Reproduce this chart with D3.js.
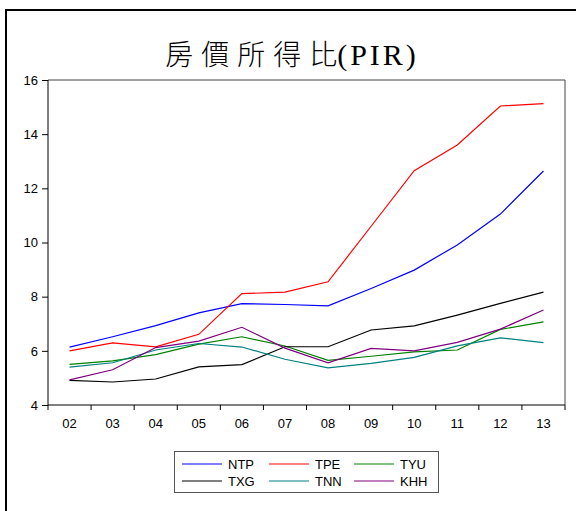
<!DOCTYPE html>
<html>
<head>
<meta charset="utf-8">
<script src="https://cdn.jsdelivr.net/npm/d3@7"></script>
<style>
  body { margin: 0; background: #fff; }
  text { font-family: "Liberation Sans", Arial, sans-serif; }
</style>
</head>
<body>
<div id="chart"></div>
<script>
'use strict'

// years on the x axis
var years = ["02", "03", "04", "05", "06", "07", "08", "09", "10", "11", "12", "13"]

// PIR per city
var ntp = [6.14, 6.52, 6.93, 7.40, 7.74, 7.71, 7.66, 8.30, 8.98, 9.91, 11.05, 12.64]
var tpe = [6.00, 6.29, 6.15, 6.61, 8.11, 8.17, 8.55, 10.60, 12.65, 13.60, 15.04, 15.13]
var tyu = [5.50, 5.63, 5.86, 6.25, 6.52, 6.18, 5.65, 5.80, 5.96, 6.03, 6.79, 7.07]
var txg = [4.91, 4.85, 4.96, 5.41, 5.49, 6.15, 6.15, 6.77, 6.92, 7.32, 7.75, 8.17]
var tnn = [5.40, 5.56, 6.03, 6.27, 6.14, 5.69, 5.37, 5.54, 5.76, 6.18, 6.48, 6.30]
var khh = [4.93, 5.30, 6.12, 6.36, 6.87, 6.10, 5.56, 6.09, 6.00, 6.31, 6.80, 7.51]

var seriesNames = ["NTP", "TPE", "TYU", "TXG", "TNN", "KHH"]
var seriesValues = [ntp, tpe, tyu, txg, tnn, khh]
var colors = ["#0000ff", "#ff0000", "#008000", "#000000", "#008080", "#800080"]

var yTicks = [4, 6, 8, 10, 12, 14, 16]

var width = 576
var height = 511
var margin = {left: 48, top: 80, right: 11, bottom: 106}

var svg = d3.select("#chart")
            .append("svg")
            .attr("width", width)
            .attr("height", height)

// outer frame (runs off the right and bottom of the picture)
svg.append("rect")
   .attr("x", 6)
   .attr("y", 10)
   .attr("width", 700)
   .attr("height", 700)
   .attr("fill", "none")
   .attr("stroke", "#000")
   .attr("stroke-width", 2)

// title
var title = svg.append("text")
   .attr("x", 292)
   .attr("y", 65)
   .attr("text-anchor", "middle")
   .style("font-family", "'Liberation Serif', 'Noto Sans CJK TC', serif")
   .style("font-size", "30px")
title.append("tspan")
     .style("letter-spacing", "8px")
     .style("font-family", "'Noto Sans CJK TC', serif")
     .style("font-weight", "300")
     .style("font-size", "28px")
     .text("房價所得")
title.append("tspan")
     .style("font-family", "'Noto Sans CJK TC', serif")
     .style("font-weight", "300")
     .style("font-size", "28px")
     .text("比")
title.append("tspan")
     .style("letter-spacing", "3px")
     .text("(PIR)")

// scales
var xScale = d3.scaleBand()
               .domain(years)
               .range([margin.left, width - margin.right])

var yScale = d3.scaleLinear()
               .domain([4, 16])
               .range([height - margin.bottom, margin.top])

var x0 = margin.left, x1 = width - margin.right
var y0 = height - margin.bottom, y1 = margin.top

// plot box: top and right in dark grey
svg.append("path")
   .attr("d", "M" + x0 + "," + y1 + "H" + x1 + "V" + y0)
   .attr("fill", "none")
   .attr("stroke", "#444")
   .attr("stroke-width", 1)

// y axis
var yAxis = svg.append("g")
   .attr("transform", "translate(" + x0 + ",0)")
   .call(d3.axisLeft(yScale).tickValues(yTicks).tickSize(6).tickPadding(4).tickFormat(d3.format("d")))
yAxis.select(".domain").attr("d", "M0," + y1 + "V" + y0)
yAxis.selectAll("text").style("font-size", "13px").style("font-family", "'Liberation Sans', Arial, sans-serif")

// x axis: ticks at band edges, labels at band centres
var xAxis = svg.append("g")
   .attr("transform", "translate(0," + y0 + ")")
   .call(d3.axisBottom(xScale).tickSize(0).tickPadding(14))
xAxis.select(".domain").attr("d", "M" + x0 + ",0H" + x1)
xAxis.selectAll("text").style("font-size", "13px").style("font-family", "'Liberation Sans', Arial, sans-serif")

svg.append("g")
   .selectAll("line")
   .data(d3.range(years.length + 1))
   .enter()
   .append("line")
   .attr("x1", (d) => x0 + d * xScale.step())
   .attr("x2", (d) => x0 + d * xScale.step())
   .attr("y1", y0)
   .attr("y2", y0 + 5)
   .attr("stroke", "#000")

// lines
var line = d3.line()
             .x((d, i) => xScale(years[i]) + xScale.bandwidth() / 2)
             .y((d) => yScale(d))

svg.append("g")
   .selectAll("path")
   .data(seriesValues)
   .enter()
   .append("path")
   .attr("d", (d) => line(d))
   .attr("fill", "none")
   .attr("stroke", (d, i) => colors[i])
   .attr("stroke-width", 1.2)

// legend
var legend = svg.append("g")
legend.append("rect")
      .attr("x", 174.5)
      .attr("y", 451.5)
      .attr("width", 264)
      .attr("height", 41)
      .attr("fill", "#fff")
      .attr("stroke", "#555")

var colX = [182, 269, 354]
var rowY = [464, 481]

var items = legend.selectAll("g.item")
      .data(seriesNames)
      .enter()
      .append("g")
      .attr("class", "item")
      .attr("transform", (d, i) => "translate(" + colX[i % 3] + "," + rowY[Math.floor(i / 3)] + ")")

items.append("line")
     .attr("x1", 0)
     .attr("x2", 40)
     .attr("y1", 0)
     .attr("y2", 0)
     .attr("stroke", (d, i) => colors[i])
     .attr("stroke-width", 1)

items.append("text")
     .attr("x", 46)
     .attr("y", 5)
     .style("font-size", "13px")
     .text((d) => d)
</script>
</body>
</html>
